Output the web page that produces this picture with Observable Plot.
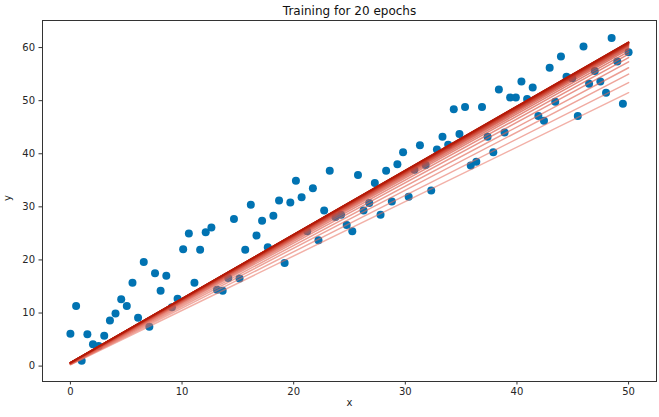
<!DOCTYPE html>
<html>
<head>
<meta charset="utf-8">
<script src="https://cdn.jsdelivr.net/npm/d3@7"></script>
<script src="https://cdn.jsdelivr.net/npm/@observablehq/plot@0.6"></script>
<style>
  html, body { margin: 0; padding: 0; background: #fff; }
  svg { display: block; }
</style>
</head>
<body>
<div id="chart"></div>
<script>
const title = "Training for 20 epochs";
const xLabel = "x";
const yLabel = "y";
const xTicks = [0, 10, 20, 30, 40, 50];
const yTicks = [0, 10, 20, 30, 40, 50, 60];

const xs = [
  0, 0.51, 1.01, 1.52, 2.02, 2.53, 3.03, 3.54, 4.04, 4.55,
  5.05, 5.56, 6.06, 6.57, 7.07, 7.58, 8.08, 8.59, 9.09, 9.60,
  10.10, 10.61, 11.11, 11.62, 12.12, 12.63, 13.13, 13.64, 14.14, 14.65,
  15.15, 15.66, 16.16, 16.67, 17.17, 17.68, 18.18, 18.69, 19.19, 19.70,
  20.20, 20.71, 21.21, 21.72, 22.22, 22.73, 23.23, 23.74, 24.24, 24.75,
  25.25, 25.76, 26.26, 26.77, 27.27, 27.78, 28.28, 28.79, 29.29, 29.80,
  30.30, 30.81, 31.31, 31.82, 32.32, 32.83, 33.33, 33.84, 34.34, 34.85,
  35.35, 35.86, 36.36, 36.87, 37.37, 37.88, 38.38, 38.89, 39.39, 39.90,
  40.40, 40.91, 41.41, 41.92, 42.42, 42.93, 43.43, 43.94, 44.44, 44.95,
  45.45, 45.96, 46.46, 46.97, 47.47, 47.98, 48.48, 48.99, 49.49, 50.00
];
const ys = [
  6.1, 11.3, 1.0, 6.0, 4.1, 3.8, 5.7, 8.6, 9.9, 12.6,
  11.3, 15.7, 9.1, 19.6, 7.4, 17.5, 14.2, 17.0, 11.1, 12.7,
  22.0, 25.0, 15.7, 21.9, 25.2, 26.1, 14.4, 14.2, 16.6, 27.7,
  16.5, 21.9, 30.4, 24.6, 27.4, 22.4, 28.3, 31.2, 19.4, 30.8,
  34.9, 31.8, 25.4, 33.5, 23.7, 29.3, 36.8, 28.1, 28.5, 26.6,
  25.4, 36.0, 29.3, 30.7, 34.5, 28.5, 36.8, 31.0, 38.0, 40.3,
  31.9, 37.0, 41.6, 37.9, 33.1, 40.8, 43.2, 41.7, 48.4, 43.7,
  48.8, 37.8, 38.5, 48.8, 43.2, 40.3, 52.1, 44.0, 50.6, 50.6,
  53.6, 50.3, 52.5, 47.1, 46.2, 56.2, 49.8, 58.3, 54.5, 54.2,
  47.1, 60.2, 53.2, 55.6, 53.6, 51.5, 61.8, 57.4, 49.4, 59.1
];

// fitted line per epoch: value at x = 0 and at x = 50
const epochs = [1,2,3,4,5,6,7,8,9,10,11,12,13,14,15,16,17,18,19,20];
const lineAt0 = [0.25, 0.3, 0.35, 0.4, 0.43, 0.46, 0.49, 0.51, 0.53, 0.55,
                 0.57, 0.58, 0.59, 0.6, 0.61, 0.62, 0.63, 0.64, 0.65, 0.66];
const lineAt50 = [51.5, 53.4, 55.0, 56.2, 57.3, 58.1, 58.75, 59.25, 59.65, 59.95,
                  60.2, 60.4, 60.55, 60.67, 60.77, 60.85, 60.91, 60.96, 61.0, 61.03];

const points = xs.map((x, i) => ({x, y: ys[i]}));
const lines = epochs.flatMap((e, i) => [
  {epoch: e, x: 0, y: lineAt0[i]},
  {epoch: e, x: 50, y: lineAt50[i]}
]);

const font = "DejaVu Sans, sans-serif";
const ink = "#262626";

const chart = Plot.plot({
  width: 659,
  height: 417,
  marginLeft: 42,
  marginRight: 3,
  marginTop: 20,
  marginBottom: 36,
  style: {fontFamily: font, fontSize: "10px", color: ink, background: "#fff"},
  x: {domain: [-2.5, 52.5], label: null},
  y: {domain: [-2.9, 65.1], label: null},
  marks: [
    Plot.dot(points, {x: "x", y: "y", r: 4, fill: "#0173b2", stroke: "none"}),
    ...epochs.map((e, i) => Plot.line(lines.filter(d => d.epoch === e), {
      x: "x", y: "y",
      stroke: d3.interpolateRgb("#e8705f", "#b51a08")(i / 19),
      strokeOpacity: 0.55 + 0.45 * i / 19,
      strokeWidth: 1.5
    })),
    Plot.frame({stroke: "#333", strokeWidth: 1}),
    Plot.axisX({ticks: xTicks, tickSize: 3.5, tickPadding: 3, label: null, stroke: "#333", fontSize: 10}),
    Plot.axisY({ticks: yTicks, tickSize: 3.5, tickPadding: 4, label: null, stroke: "#333", fontSize: 10}),
    Plot.text([xLabel], {frameAnchor: "bottom", dy: 24, text: d => d, fontSize: 10, fill: ink}),
    Plot.text([yLabel], {frameAnchor: "left", dx: -35, rotate: -90, text: d => d, fontSize: 10, fill: ink}),
    Plot.text([title], {frameAnchor: "top", lineAnchor: "bottom", dy: -6, text: d => d, fontSize: 12, fill: "#111"})
  ]
});
document.getElementById("chart").appendChild(chart);
</script>
</body>
</html>
